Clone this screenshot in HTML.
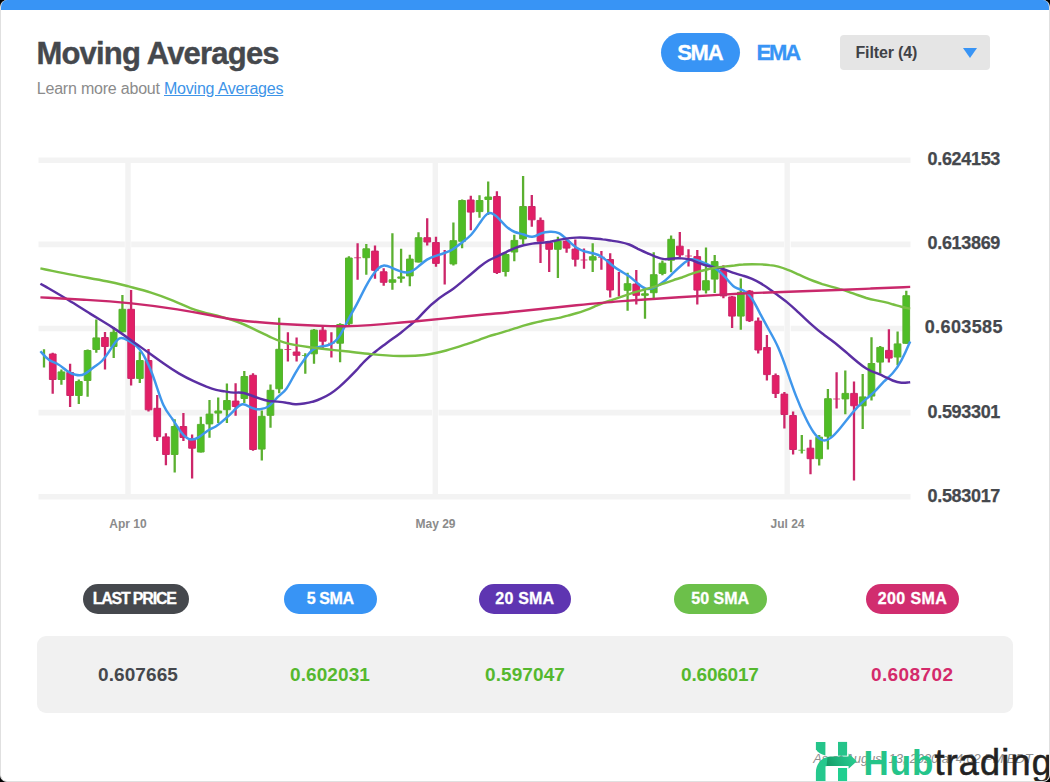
<!DOCTYPE html>
<html>
<head>
<meta charset="utf-8">
<title>Moving Averages</title>
<style>
html,body{margin:0;padding:0;background:#000;}
body{width:1050px;height:782px;overflow:hidden;position:relative;font-family:"Liberation Sans",sans-serif;}
.card{position:absolute;left:0;top:0;width:1048px;height:781px;background:#fff;border:1px solid #e0e0e0;border-top:none;border-radius:7px;overflow:hidden;}
.topbar{position:absolute;left:-1px;top:0;width:1050px;height:10px;background:#3894f5;}
.abs{position:absolute;white-space:nowrap;}
h1{position:absolute;margin:0;left:35.4px;top:36.2px;font-size:31px;line-height:36px;font-weight:bold;color:#45484d;letter-spacing:-0.8px;white-space:nowrap;-webkit-text-stroke:0.4px #45484d;}
.sub{left:35.8px;top:79.4px;font-size:16px;line-height:20px;color:#8b8b8b;letter-spacing:-0.21px;}
.sub a{color:#3d94e8;text-decoration:underline;}
.sma{left:660px;top:32.5px;width:78.6px;height:39.6px;border-radius:20px;background:#3894f5;color:#fff;font-weight:bold;font-size:22px;line-height:39px;text-align:center;letter-spacing:-1.2px;text-indent:-1px;-webkit-text-stroke:0.3px #fff;}
.ema{left:755.4px;top:33px;color:#3894f5;font-weight:bold;font-size:22px;line-height:39px;letter-spacing:-2.1px;-webkit-text-stroke:0.3px #3894f5;}
.filter{left:839px;top:35px;width:150px;height:35px;border-radius:4px;background:#e5e5e5;}
.filter span{position:absolute;left:15.5px;top:0;line-height:36px;font-size:16px;font-weight:bold;color:#3f4247;letter-spacing:-0.15px;}
.filter i{position:absolute;left:123px;top:13px;width:0;height:0;border-left:7px solid transparent;border-right:7px solid transparent;border-top:10px solid #3894f5;}
.ylab{left:962.8px;transform:translateX(-50%);font-size:18px;line-height:20px;font-weight:bold;color:#45484d;letter-spacing:-0.33px;-webkit-text-stroke:0.25px #45484d;}
.xlab{font-size:12px;line-height:14px;font-weight:bold;color:#8b8b8b;transform:translateX(-50%);}
.pill{top:583.9px;height:29.8px;border-radius:15px;color:#fff;font-weight:bold;font-size:16px;line-height:30.4px;text-align:center;-webkit-text-stroke:0.3px #fff;}
.vals{left:36px;top:636.4px;width:975.5px;height:77px;border-radius:9px;background:#f1f1f1;}
.val{top:664px;letter-spacing:0.1px;font-size:19px;line-height:22px;font-weight:bold;transform:translateX(-50%);}
.asof{right:16.5px;top:749.5px;font-size:13px;line-height:18px;font-style:italic;color:#8f8f8f;letter-spacing:-0.12px;}
.logo{left:815px;top:741px;}
.lt{left:862.4px;top:743px;font-size:35px;line-height:40px;}
</style>
</head>
<body>
<div class="card">
  <div class="topbar"></div>
  <h1>Moving Averages</h1>
  <div class="abs sub">Learn more about <a>Moving Averages</a></div>
  <div class="abs sma">SMA</div>
  <div class="abs ema">EMA</div>
  <div class="abs filter"><span>Filter (4)</span><i></i></div>

  <svg class="abs" style="left:0;top:140px" width="1050" height="370" viewBox="0 140 1050 370">
    <defs><filter id="soft" x="-5%" y="-5%" width="110%" height="110%"><feGaussianBlur stdDeviation="0.7"/></filter></defs>
    <g filter="url(#soft)">
    <g id="grid" stroke="#f3f3f3" stroke-width="5.6" fill="none">
      <path d="M37.5 160.3H909.5M37.5 244.4H909.5M37.5 328.5H909.5M37.5 412.6H909.5M37.5 496.7H909.5"/>
    </g>
    <g id="vgrid" fill="none">
      <path d="M127 164V493M434.3 164V493M786.5 164V493" stroke="#fff" stroke-width="6.4"/>
      <path d="M127 161V496M434.3 161V496M786.2 161V496" stroke="#f3f3f3" stroke-width="5.4"/>
    </g>
    </g>
    <g id="candles">
      <path d="M43 349.2V367.6M60.4 369.4V384.7M77.8 379.6V404M86.6 349.5V396.8M95.3 319.5V352.8M112.7 327V358M121.4 295V332.3M138.8 351.5V383M173.7 419.3V472.5M199.8 416.7V452.5M208.5 400V437.7M217.2 397.6V423M225.9 383.4V423.1M243.3 370.9V402.9M260.8 410.5V460.4M269.5 384.5V427.8M278.2 317.7V393.2M304.3 353.3V373.7M313 329V363.8M339.1 323.2V362.3M347.9 256.3V325.4M365.3 244.1V274.7M391.4 233.3V289.7M400.1 248.7V282.8M408.8 254.7V286.3M417.5 232.2V262.5M452.4 222.5V265.5M461.1 199.5V248.3M478.5 195.3V217.7M487.2 181.5V214.9M504.6 252.5V276.4M513.3 234.8V261.3M522.1 176.1V244M556.9 236.7V278.1M591.7 243.3V272.1M626.6 272.8V310.8M644 288.7V318.8M652.7 252.3V300.1M661.4 260.6V275.2M670.1 235.4V272.2M705 247.6V293.4M713.7 254.9V292.9M739.8 278.4V329.7M800.8 435.1V453.5M818.2 435.1V465.5M826.9 389V449.6M844.3 370.6V414.3M861.7 374V428.9M870.5 337.2V400.5M879.2 346V373.4M896.6 331.5V365.3M905.3 290.7V343.8" stroke="#5bb030" stroke-width="2.3" fill="none"/>
      <path d="M51.7 352.8V393.7M69.1 363.8V407M104 332V369.4M130.1 290V385.5M147.5 349V411.6M156.2 395V441M164.9 433.3V465.3M182.4 413V441M191.1 434.6V478.6M234.6 383.3V415.8M252 373.2V450.8M286.9 332.2V361.4M295.6 337.5V361.4M321.7 325.8V349M330.4 332.2V357.5M356.6 243.2V279.8M374 245.5V278.7M382.7 268.3V285.8M426.2 218.3V245.5M435 236.8V266.7M443.7 250V284.6M469.8 195.8V230.3M495.9 191.2V274M530.8 195V226.8M539.5 217.5V262.9M548.2 241.7V272.1M565.6 239.4V252.8M574.3 239.4V266.4M583 248.6V268.7M600.4 250.9V269.8M609.2 253.2V297.4M617.9 272.1V296.5M635.3 270V304.6M678.8 231.9V257.2M687.5 249.2V266.4M696.3 249.9V304.4M722.4 265.3V298.2M731.1 295.9V327.9M748.5 290.1V322.1M757.2 317.4V353.4M765.9 335V380.6M774.6 373.4V398M783.4 392V428.6M792.1 411.6V454.6M809.5 439.7V474.2M835.6 372.2V408.6M853 381.4V480.4M887.9 329.2V362.6" stroke="#cc2669" stroke-width="2.3" fill="none"/>
      <path d="M300.9 354.9h6.8v1h-6.8zM797.4 449.8h6.8v1h-6.8z" fill="#5bb030" fill-opacity="0.8"/>
      <path d="M283.5 348.9h6.8v1h-6.8zM327 342.8h6.8v1h-6.8zM353.2 257.2h6.8v1h-6.8zM579.6 259.6h6.8v1h-6.8zM597 256.7h6.8v1h-6.8zM684.1 255.6h6.8v1h-6.8zM832.2 398.4h6.8v1h-6.8z" fill="#cc2669" fill-opacity="0.8"/>
      <path d="M57.1 371.9h6.7v7.6h-6.7zM74.5 381.5h6.7v14h-6.7zM83.2 350.5h6.7v30h-6.7zM91.9 337.9h6.7v11.6h-6.7zM109.3 332.3h6.7v14.2h-6.7zM118 309.3h6.7v22.5h-6.7zM135.5 360.5h6.7v17.9h-6.7zM170.3 426.5h6.7v28h-6.7zM196.4 424.4h6.7v27.6h-6.7zM205.1 414.1h6.7v9.8h-6.7zM213.9 411h6.7v2.1h-6.7zM222.6 400.5h6.7v9.2h-6.7zM240 376.5h6.7v22h-6.7zM257.4 416.3h6.7v32.8h-6.7zM266.1 390.3h6.7v25h-6.7zM274.8 349.3h6.7v39.5h-6.7zM309.7 330.1h6.7v23.7h-6.7zM335.8 324.5h6.7v18.7h-6.7zM344.5 258h6.7v65.7h-6.7zM361.9 248.8h6.7v8.9h-6.7zM388.1 279.8h6.7v2.5h-6.7zM396.8 276.9h6.7v1.3h-6.7zM405.5 259.1h6.7v16.8h-6.7zM414.2 237.7h6.7v24.3h-6.7zM449 240.7h6.7v23.2h-6.7zM457.7 200.5h6.7v40.8h-6.7zM475.2 200.5h6.7v11.1h-6.7zM483.9 197h6.7v2.5h-6.7zM501.3 254.5h6.7v17h-6.7zM510 240.4h6.7v11.6h-6.7zM518.7 206.5h6.7v32.4h-6.7zM553.5 241.1h6.7v8.2h-6.7zM588.4 256.7h6.7v3.4h-6.7zM623.2 283.7h6.7v6.6h-6.7zM640.6 293.8h6.7v1.5h-6.7zM649.4 274.7h6.7v18h-6.7zM658.1 263.2h6.7v10.2h-6.7zM666.8 239.3h6.7v20.9h-6.7zM701.6 280.7h6.7v9.4h-6.7zM710.3 261.6h6.7v17.5h-6.7zM736.5 292.3h6.7v23.8h-6.7zM814.8 437.2h6.7v21.5h-6.7zM823.6 398.7h6.7v37.5h-6.7zM841 393.4h6.7v5.5h-6.7zM858.4 396.9h6.7v8.9h-6.7zM867.1 363.5h6.7v32.6h-6.7zM875.8 347.4h6.7v14.7h-6.7zM893.2 343.9h6.7v13.1h-6.7zM901.9 295.7h6.7v47.6h-6.7z" fill="#4fbd26" stroke="#5bb030" stroke-width="1"/>
      <path d="M48.4 354h6.7v25.5h-6.7zM65.8 372.5h6.7v23h-6.7zM100.6 337.5h6.7v9h-6.7zM126.8 309.3h6.7v69.1h-6.7zM144.2 360.5h6.7v49.3h-6.7zM152.9 408.3h6.7v28.4h-6.7zM161.6 436.9h6.7v17.6h-6.7zM179 426.5h6.7v11h-6.7zM187.7 438.5h6.7v9.7h-6.7zM231.3 401.1h6.7v5.4h-6.7zM248.7 375.3h6.7v74.2h-6.7zM292.2 352h6.7v3.3h-6.7zM318.4 330.2h6.7v11h-6.7zM370.6 251.1h6.7v19.2h-6.7zM379.3 271.8h6.7v10.5h-6.7zM422.9 237.7h6.7v4.3h-6.7zM431.6 242.5h6.7v20.9h-6.7zM466.4 200h6.7v12.1h-6.7zM492.6 196.5h6.7v76h-6.7zM527.4 206.5h6.7v13.3h-6.7zM536.1 220.4h6.7v20.8h-6.7zM544.8 242.9h6.7v6.4h-6.7zM562.2 241.1h6.7v7h-6.7zM571 249.1h6.7v10.1h-6.7zM605.8 259.5h6.7v30.5h-6.7zM631.9 284.1h6.7v11.2h-6.7zM675.5 246.2h6.7v8.7h-6.7zM692.9 256.6h6.7v33.5h-6.7zM719 270.4h6.7v25.5h-6.7zM727.7 296.9h6.7v19.2h-6.7zM745.2 291.1h6.7v29.6h-6.7zM753.9 321.1h6.7v28.9h-6.7zM762.6 347.5h6.7v27.1h-6.7zM771.3 375.6h6.7v17.8h-6.7zM780 394.1h6.7v20.4h-6.7zM788.7 415.5h6.7v34h-6.7zM806.1 448.2h6.7v10.5h-6.7zM849.7 393.4h6.7v12.4h-6.7zM884.5 350.4h6.7v7.7h-6.7z" fill="#e21f66" stroke="#cc2669" stroke-width="1"/>
    </g>
    <g id="lines" fill="none" stroke-width="2.45" stroke-linecap="butt" stroke-linejoin="round">
      <path d="M39.4 351.2C39.4 351.2 39.4 351.2 40.9 352.9C42.3 354.6 45.3 358.1 48.2 360C51.1 362 54.1 362.5 57 364.2C59.9 365.8 62.9 368.7 65.8 370.7C68.7 372.8 71.6 374.2 74.6 374.8C77.5 375.5 80.4 375.6 83.3 374.2C86.3 372.8 89.2 370 92.1 367.8C95 365.5 98 363.9 100.9 361C103.8 358 106.8 353.7 109.7 349.2C112.6 344.6 115.5 339.8 118.5 338.4C121.4 336.9 124.3 338.9 127.3 340.6C130.2 342.3 133.1 343.8 136 346.7C139 349.5 141.9 353.7 144.8 359.4C147.8 365 150.7 372 153.6 380.4C156.5 388.8 159.5 398.5 162.4 405C165.3 411.4 168.3 414.6 171.2 418.7C174.1 422.9 177 428.1 180 432C182.9 435.9 185.8 438.4 188.8 439.3C191.7 440.1 194.6 439.2 197.5 437.4C200.5 435.6 203.4 432.8 206.3 430.9C209.3 429 212.2 428 215.1 426.2C218 424.4 221 421.9 223.9 419.2C226.8 416.6 229.8 413.8 232.7 410.8C235.6 407.8 238.5 404.6 241.5 404.2C244.4 403.8 247.3 406.3 250.3 407.7C253.2 409.1 256.1 409.4 259 409.2C262 409.1 264.9 408.4 267.8 406.1C270.8 403.8 273.7 400 276.6 397.2C279.5 394.4 282.5 392.7 285.4 388.7C288.3 384.7 291.3 378.4 294.2 373.3C297.1 368.1 300 364 303 360C305.9 355.9 308.8 351.9 311.8 349.7C314.7 347.4 317.6 347 320.5 346.5C323.5 346 326.4 345.6 329.3 344.3C332.3 343 335.2 340.9 338.1 336.6C341 332.3 344 325.8 346.9 320.2C349.8 314.6 352.8 309.9 355.7 304.4C358.6 298.9 361.5 292.7 364.5 287.1C367.4 281.6 370.3 276.7 373.3 272.9C376.2 269.1 379.1 266.3 382 265.7C385 265 387.9 266.5 390.8 267.8C393.8 269.1 396.7 270.3 399.6 271.3C402.5 272.2 405.5 272.9 408.4 272.1C411.3 271.3 414.3 269.1 417.2 266.6C420.1 264.2 423 261.5 426 259.6C428.9 257.8 431.8 256.7 434.8 255.8C437.7 254.9 440.6 254.1 443.5 253C446.5 252 449.4 250.8 452.3 248.9C455.3 247.1 458.2 244.6 461.1 242.4C464 240.1 467 238.1 469.9 235C472.8 231.9 475.8 227.6 478.7 223.2C481.6 218.9 484.6 214.4 487.5 213.2C490.4 212 493.3 214.2 496.3 217.1C499.2 220 502.1 223.6 505.1 226.3C508 229 510.9 230.9 513.8 232C516.8 233.1 519.7 233.5 522.6 234.5C525.6 235.5 528.5 237.1 531.4 236.8C534.3 236.6 537.3 234.5 540.2 233.3C543.1 232.1 546.1 231.8 549 231.7C551.9 231.6 554.8 231.6 557.8 233.1C560.7 234.5 563.6 237.4 566.6 240.1C569.5 242.8 572.4 245.5 575.3 247.4C578.3 249.4 581.2 250.6 584.1 251.5C587.1 252.3 590 252.8 592.9 253.5C595.8 254.3 598.8 255.5 601.7 257.5C604.6 259.5 607.6 262.2 610.5 264.7C613.4 267.1 616.3 269.1 619.3 270.9C622.2 272.7 625.1 274.2 628.1 276.3C631 278.3 633.9 281 636.8 283.5C639.8 286 642.7 288.3 645.6 288.9C648.6 289.6 651.5 288.5 654.4 287C657.3 285.5 660.3 283.7 663.2 281.3C666.1 278.9 669.1 275.9 672 273.1C674.9 270.3 677.8 267.6 680.8 265C683.7 262.4 686.6 260 689.6 259.3C692.5 258.6 695.4 259.7 698.3 260.9C701.3 262 704.2 263.2 707.1 264.5C710.1 265.8 713 267.3 715.9 269.4C718.8 271.5 721.8 274.2 724.7 277.6C727.6 281 730.6 285 733.5 287C736.4 289.1 739.3 289.1 742.3 290.5C745.2 292 748.1 294.7 751.1 299C754 303.4 756.9 309.3 759.8 314.9C762.8 320.5 765.7 325.8 768.6 331C771.6 336.2 774.5 341.3 777.4 348C780.3 354.7 783.3 362.9 786.2 371.3C789.1 379.7 792.1 388.3 795 395.9C797.9 403.5 800.8 410.1 803.8 416.2C806.7 422.3 809.6 427.9 812.6 432.2C815.5 436.4 818.4 439.2 821.3 440.1C824.3 441 827.2 439.9 830.1 437.6C833.1 435.4 836 432 838.9 428.5C841.8 424.9 844.8 421.1 847.7 417.5C850.6 413.8 853.6 410.3 856.5 407.2C859.4 404.1 862.3 401.4 865.3 398.9C868.2 396.4 871.1 394 874.1 391.1C877 388.2 879.9 384.6 882.8 381.7C885.8 378.8 888.7 376.5 891.6 373.3C894.6 370 897.5 365.9 900.4 360.4C903.3 354.9 906.3 348.2 907.7 344.8C909.2 341.4 909.2 341.4 909.2 341.4" stroke="#3f97ec"/>
      <path d="M39.4 283.7C39.4 283.7 39.4 283.7 44.2 286.4C49 289.2 58.6 294.7 66.9 299.8C75.2 304.8 82.2 309.4 89.5 313.9C96.8 318.4 104.3 322.8 111 327.1C117.7 331.3 123.4 335.4 129.4 339.7C135.4 343.9 141.5 348.4 147.4 352.6C153.2 356.8 158.7 360.8 163.8 364.3C168.9 367.9 173.5 370.9 178.2 373.6C182.9 376.3 187.5 378.7 192.2 380.9C196.9 383.1 201.6 385.1 205.4 386.7C209.3 388.2 212.2 389.2 215.1 389.9C218 390.6 221 390.9 223.9 391.4C226.8 391.9 229.8 392.5 232.7 392.6C235.6 392.7 238.5 392.4 241.5 392.8C244.4 393.2 247.3 394.4 250.3 395.5C253.2 396.6 256.1 397.7 259 398.7C262 399.7 264.9 400.5 267.8 401C270.8 401.4 273.7 401.5 276.6 401.6C279.5 401.8 282.5 402.1 285.4 402.7C288.3 403.2 291.3 404 294.2 404.2C297.1 404.4 300 404 303 403.5C305.9 403.1 308.8 402.6 311.8 401.7C314.7 400.9 317.6 399.8 320.5 398.4C323.5 397.1 326.4 395.5 329.3 393.7C332.3 391.8 335.2 389.6 338.1 387.1C341 384.6 344 381.8 346.9 378.9C349.8 376 352.8 373 355.7 369.9C358.6 366.7 361.5 363.3 364.5 360.4C367.4 357.5 370.3 354.9 373.3 352.5C376.2 350.2 379.1 348 382 345.8C385 343.6 387.9 341.4 390.8 339.3C393.8 337.2 396.7 335.1 399.6 332.9C402.5 330.6 405.5 328.1 408.4 325.7C411.3 323.3 414.3 321 417.2 318.1C420.1 315.3 423 311.8 426 308.8C428.9 305.8 431.8 303.3 434.8 301C437.7 298.6 440.6 296.5 443.5 294.6C446.5 292.6 449.4 290.8 452.3 288.7C455.3 286.5 458.2 284 461.1 281.6C464 279.1 467 276.7 469.9 274.2C472.8 271.8 475.8 269.2 478.7 266.8C481.6 264.4 484.6 262.2 487.5 260.5C490.4 258.8 493.3 257.7 496.3 256.3C499.2 255 502.1 253.5 505.1 252.1C508 250.6 510.9 249.2 513.8 248.1C516.8 246.9 519.7 246.1 522.6 245.3C525.6 244.6 528.5 244 531.4 243.6C534.3 243.2 537.3 243.1 540.2 242.9C543.1 242.6 546.1 242.3 549 241.8C551.9 241.2 554.8 240.5 557.8 239.9C560.7 239.3 563.6 238.8 566.6 238.4C569.5 238 572.4 237.7 575.3 237.6C578.3 237.5 581.2 237.5 584.1 237.7C587.1 237.9 590 238.2 592.9 238.5C595.8 238.8 598.8 239 601.7 239.4C604.6 239.7 607.6 240.2 610.5 240.6C613.4 241.1 616.3 241.5 619.3 242.1C622.2 242.7 625.1 243.4 628.1 244.5C631 245.7 633.9 247.3 636.8 248.8C639.8 250.2 642.7 251.6 645.6 252.9C648.6 254.2 651.5 255.4 654.4 256.6C657.3 257.7 660.3 258.8 663.2 259.1C666.1 259.4 669.1 258.8 672 258.5C674.9 258.3 677.8 258.3 680.8 258.4C683.7 258.6 686.6 258.9 689.6 259.7C692.5 260.5 695.4 262 698.3 263.2C701.3 264.4 704.2 265.4 707.1 266C710.1 266.7 713 267 715.9 267.6C718.8 268.1 721.8 268.9 724.7 269.9C727.6 270.9 730.6 272.2 733.5 273.2C736.4 274.2 739.3 274.9 742.3 275.8C745.2 276.6 748.1 277.7 751.1 278.9C754 280.2 756.9 281.7 759.8 283.4C762.8 285.2 765.7 287.1 768.6 289.3C771.6 291.4 774.5 293.7 777.4 295.8C780.3 298 783.3 300.1 786.2 302.4C789.1 304.8 792.1 307.5 795 310.2C797.9 312.9 800.8 315.7 803.8 318.4C806.7 321.2 809.6 323.9 812.6 326.4C815.5 329 818.4 331.4 821.3 333.6C824.3 335.8 827.2 337.9 830.1 340.1C833.1 342.3 836 344.6 838.9 347C841.8 349.4 844.8 352 847.7 354.5C850.6 357.1 853.6 359.6 856.5 362C859.4 364.4 862.3 366.7 865.3 368.5C868.2 370.3 871.1 371.5 874.1 372.6C877 373.8 879.9 374.9 882.8 376.3C885.8 377.7 888.7 379.3 891.6 380.5C894.6 381.7 897.5 382.5 900.4 382.7C903.3 382.9 906.3 382.5 907.7 382.4C909.2 382.2 909.2 382.2 909.2 382.2" stroke="#5b2fa3"/>
      <path d="M39.4 268.4C39.4 268.4 39.4 268.4 44.5 269.5C49.6 270.5 59.9 272.7 71.5 274.9C83.1 277.1 96.2 279.3 105.6 281.2C115 283.1 120.9 284.7 127.7 286.4C134.5 288.2 142.2 290.1 150 292.6C157.7 295 165.3 297.8 172 300.6C178.8 303.4 184.5 306.1 189.3 308.1C194.1 310 198 311.2 202.8 312.4C207.5 313.7 213.3 314.9 218.1 316.1C222.9 317.4 226.7 318.5 230.6 319.8C234.4 321 238.2 322.4 242 324C245.9 325.6 249.7 327.6 254.4 329.8C259.1 332.1 264.5 334.6 268.9 336.8C273.3 338.9 276.7 340.7 282.9 342.4C289.1 344.1 298.1 345.9 308.8 347.3C319.5 348.8 331.9 349.9 342.2 351C352.5 352.1 360.9 353.2 370 354.1C379.2 355 389.2 355.8 398.4 356C407.5 356.2 415.9 355.9 423.4 355C430.9 354.1 437.5 352.6 445.2 350.5C452.8 348.4 461.3 345.5 467.1 343.6C472.8 341.7 475.8 340.7 478.7 339.6C481.6 338.5 484.6 337.3 487.5 336.3C490.4 335.4 493.3 334.7 496.3 333.9C499.2 333.1 502.1 332.2 505.1 331.2C508 330.3 510.9 329.4 513.8 328.4C516.8 327.5 519.7 326.5 522.6 325.6C525.6 324.8 528.5 324 531.4 323.2C534.3 322.5 537.3 321.8 540.2 321.2C543.1 320.5 546.1 320 549 319.5C551.9 319 554.8 318.5 557.8 317.9C560.7 317.2 563.6 316.3 566.6 315.6C569.5 314.8 572.4 314.1 575.3 313.3C578.3 312.5 581.2 311.5 584.1 310.4C587.1 309.3 590 308.1 592.9 306.8C595.8 305.6 598.8 304.2 601.7 303.1C604.6 302 607.6 301.1 610.5 300.2C613.4 299.2 616.3 298.2 619.3 297.2C622.2 296.2 625.1 295.1 628.1 294.1C631 293.1 633.9 292.2 636.8 291.4C639.8 290.6 642.7 289.8 645.6 288.9C648.6 288.1 651.5 287.2 654.4 286.3C657.3 285.3 660.3 284.4 663.2 283.4C666.1 282.4 669.1 281.3 672 280.3C674.9 279.3 677.8 278.5 680.8 277.5C683.7 276.4 686.6 275.2 689.6 274.1C692.5 273 695.4 272.2 698.3 271.4C701.3 270.6 704.2 269.9 707.1 269.2C710.1 268.6 713 268 715.9 267.5C718.8 267.1 721.8 266.7 724.7 266.4C727.6 266.1 730.6 265.8 733.5 265.5C736.4 265.1 739.3 264.7 742.3 264.5C745.2 264.2 748.1 264.2 751.1 264.2C754 264.2 756.9 264.2 759.8 264.4C762.8 264.5 765.7 264.7 768.6 265.1C771.6 265.4 774.5 265.9 777.4 266.6C780.3 267.4 783.3 268.4 786.2 269.6C789.1 270.7 792.1 272 795 273.3C797.9 274.6 800.8 276 803.8 277.3C806.7 278.6 809.6 279.8 812.6 281C815.5 282.1 818.4 283.1 821.3 284.1C824.3 285 827.2 285.8 830.1 286.6C833.1 287.4 836 288.2 838.9 289.1C841.8 289.9 844.8 290.8 847.7 291.8C850.6 292.8 853.6 294 856.5 295C859.4 296.1 862.3 297.1 865.3 298C868.2 298.8 871.1 299.5 874.1 300.1C877 300.7 879.9 301.3 882.8 301.9C885.8 302.6 888.7 303.4 891.6 304.3C894.6 305.1 897.5 306.1 900.4 306.8C903.3 307.6 906.3 308.1 907.7 308.4C909.2 308.7 909.2 308.7 909.2 308.7" stroke="#79bf43"/>
      <path d="M39.4 297.4C39.4 297.4 39.4 297.4 47.2 297.8C55 298.2 70.6 299 85.7 299.9C100.7 300.8 115.3 301.9 130.6 303.4C145.9 305 162.1 307.2 176.3 309.4C190.5 311.7 202.9 314 212.3 315.8C221.7 317.6 228.2 318.9 238.5 320.2C248.9 321.5 263 322.8 277.4 323.8C291.9 324.7 306.5 325.3 317.7 325.7C328.9 326 336.5 326.3 344.5 326.2C352.5 326.1 360.9 325.7 369.4 325.1C377.9 324.5 386.5 323.8 393.7 323.1C400.9 322.5 406.5 322 415.5 321.2C424.5 320.3 436.9 319.2 449.7 317.9C462.5 316.6 475.9 315.2 485.9 314.2C495.9 313.3 502.5 312.8 517.9 311.3C533.2 309.7 557.2 307.2 575.5 305.3C593.9 303.5 606.5 302.3 617.9 301.4C629.2 300.5 639.2 299.8 647.5 299.2C655.9 298.6 662.5 298.2 677.9 297.2C693.2 296.3 717.2 294.8 737.2 293.8C757.2 292.8 773.2 292.2 787.9 291.7C802.5 291.2 815.9 290.8 829.2 290.3C842.5 289.8 855.9 289.2 869.2 288.6C882.5 288 895.9 287.5 902.5 287.2C909.2 286.9 909.2 286.9 909.2 286.9" stroke="#c9286b"/>
    </g>
  </svg>

  <div class="abs ylab" style="top:149.3px">0.624153</div>
  <div class="abs ylab" style="top:233.4px">0.613869</div>
  <div class="abs ylab" style="top:317.2px;letter-spacing:0.4px">0.603585</div>
  <div class="abs ylab" style="top:401.6px">0.593301</div>
  <div class="abs ylab" style="top:485.7px">0.583017</div>

  <div class="abs xlab" style="left:127px;top:517px">Apr 10</div>
  <div class="abs xlab" style="left:434.5px;top:517px">May 29</div>
  <div class="abs xlab" style="left:786.5px;top:517px">Jul 24</div>

  <div class="abs pill" style="left:81.7px;width:106px;background:#45484d;letter-spacing:-1.2px;text-indent:-3px">LAST PRICE</div>
  <div class="abs pill" style="left:283px;width:92.5px;background:#3894f5;letter-spacing:-0.4px">5 SMA</div>
  <div class="abs pill" style="left:477.5px;width:92.7px;background:#5e35b1;letter-spacing:0.2px">20 SMA</div>
  <div class="abs pill" style="left:673px;width:92.5px;background:#6cc04a">50 SMA</div>
  <div class="abs pill" style="left:865px;width:93px;background:#d12d6f;letter-spacing:0.4px">200 SMA</div>

  <div class="abs vals"></div>
  <div class="abs val" style="left:137px;color:#45484d">0.607665</div>
  <div class="abs val" style="left:329px;color:#55b82e">0.602031</div>
  <div class="abs val" style="left:524px;color:#55b82e">0.597047</div>
  <div class="abs val" style="left:718.9px;color:#55b82e;letter-spacing:-0.2px">0.606017</div>
  <div class="abs val" style="left:911.2px;color:#d42a6b;letter-spacing:0.4px">0.608702</div>


  <div class="abs asof">As of August 13, 2020 at 4:02 PM EDT</div>

  <svg class="abs" style="left:807px;top:736px" width="62" height="46" viewBox="808 736 62 46">
    <defs>
      <linearGradient id="lg" gradientUnits="userSpaceOnUse" x1="824" y1="768" x2="852" y2="756">
        <stop offset="0" stop-color="#11935f"/><stop offset="0.55" stop-color="#1fb57d"/><stop offset="1" stop-color="#27c98e"/>
      </linearGradient>
    </defs>
    <path d="M815.9 741.9H825.4V755.6C821.3 754.6 817.6 752.6 815.9 749.3Z" fill="#25c48a"/>
    <path d="M838 741.9H847.1V755.7H838Z" fill="#25c48a"/>
    <path d="M838 768H847.1V782H838Z" fill="#21cf90"/>
    <path d="M827 757.2C829.5 756.7 831 756.6 832.5 756.6H848.6V753.4L856.8 761.3L848.6 768.7V766H825.5V760Z" fill="url(#lg)"/>
    <path d="M815.9 782V772.5C815.9 764.5 820.5 758.6 827.5 757.1L826.5 766.2H825.5V782Z" fill="#25c88d"/>
  </svg>
  <div class="abs lt"><b style="color:#25c48a;letter-spacing:1px">Hub</b><span style="color:#222;font-size:36px;letter-spacing:1.2px;-webkit-text-stroke:0.55px #222">trading</span></div>
</div>
</body>
</html>
